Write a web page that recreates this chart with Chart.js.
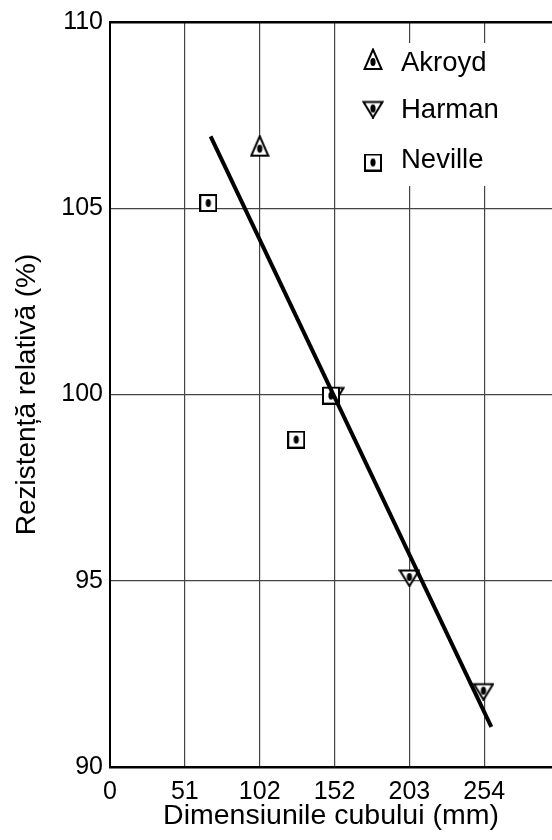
<!DOCTYPE html>
<html>
<head>
<meta charset="utf-8">
<script src="https://cdn.jsdelivr.net/npm/chart.js@4.4.1/dist/chart.umd.min.js"></script>
<style>
  html, body { margin: 0; padding: 0; background: #fff; }
  canvas { display: block; }
</style>
</head>
<body>
<canvas id="c" width="552" height="840"></canvas>
<script>
// ---- data ----
const seriesNames = ['Akroyd', 'Harman', 'Neville'];
const akroydX = [101.6];
const akroydY = [106.6];
const harmanX = [152, 203.2, 253.5];
const harmanY = [100.0, 95.1, 92.05];
const nevilleX = [66.7, 126.4, 150];
const nevilleY = [105.14, 98.79, 99.97];
const fitX = [68.3, 258.8];
const fitY = [106.93, 91.08];
const xTickValues = [0, 50.8, 101.6, 152.4, 203.2, 254];
const xTickLabels = ['0', '51', '102', '152', '203', '254'];
const yTickValues = [90, 95, 100, 105, 110];
const yTickLabels = ['90', '95', '100', '105', '110'];
const xTitle = 'Dimensiunile cubului (mm)';
const yTitle = 'Rezisten\u021B\u0103 relativ\u0103 (%)';

// ---- marker images (dot at canvas centre) ----
function makeMarker(kind) {
  const c = document.createElement('canvas');
  let w, h;
  if (kind === 'up') { w = 20; h = 28; }
  else if (kind === 'down') { w = 22; h = 20; }
  else { w = 18; h = 18; }
  c.width = w; c.height = h;
  const g = c.getContext('2d');
  g.lineWidth = 2; g.strokeStyle = '#000'; g.fillStyle = '#fff';
  g.lineJoin = 'miter';
  g.beginPath();
  if (kind === 'up') { g.moveTo(w / 2, 1.5); g.lineTo(w - 1.5, 21); g.lineTo(1.5, 21); g.closePath(); }
  else if (kind === 'down') { g.moveTo(1.5, 3.5); g.lineTo(w - 1.5, 3.5); g.lineTo(w / 2, h - 1); g.closePath(); }
  else { g.rect(1, 1, w - 2, h - 2); }
  g.fill(); g.stroke();
  g.fillStyle = '#000';
  g.beginPath();
  g.ellipse(w / 2, h / 2, 2.6, 4, 0, 0, Math.PI * 2);
  g.fill();
  return c;
}
const mUp = makeMarker('up');
const mDown = makeMarker('down');
const mSq = makeMarker('square');

function pts(xs, ys) { return xs.map((x, i) => ({ x: x, y: ys[i] })); }

const FONT = "'Liberation Sans', Arial, sans-serif";

const insideLegend = {
  id: 'insideLegend',
  afterDraw(chart, args, o) {
    const ctx = chart.ctx;
    const ca = chart.chartArea;
    ctx.save();
    ctx.fillStyle = '#fff';
    ctx.fillRect(o.left, o.top, ca.right - o.left, o.bottom - o.top);
    ctx.font = o.fontSize + 'px ' + FONT;
    ctx.fillStyle = '#000';
    ctx.textAlign = 'left';
    ctx.textBaseline = 'alphabetic';
    const items = chart.data.datasets.filter(d => d.inLegend);
    items.forEach((d, i) => {
      const img = d.pointStyle;
      ctx.drawImage(img, o.markerX - img.width / 2, o.markerY[i] - img.height / 2);
      ctx.fillText(d.label, o.textX, o.textY[i]);
    });
    ctx.restore();
  }
};

new Chart(document.getElementById('c'), {
  type: 'scatter',
  data: {
    datasets: [
      { label: 'fit', data: pts(fitX, fitY), showLine: true, borderColor: '#000', borderWidth: 4,
        pointRadius: 0, order: 0, borderCapStyle: 'butt' },
      { label: seriesNames[0], inLegend: true, data: pts(akroydX, akroydY), pointStyle: mUp, order: 1 },
      { label: seriesNames[1], inLegend: true, data: pts(harmanX, harmanY), pointStyle: mDown, order: 2 },
      { label: seriesNames[2], inLegend: true, data: pts(nevilleX, nevilleY), pointStyle: mSq, order: 1 }
    ]
  },
  options: {
    responsive: false,
    animation: false,
    events: [],
    layout: { autoPadding: false, padding: { top: 21, right: 0, bottom: 0, left: 0 } },
    plugins: {
      legend: { display: false },
      tooltip: { enabled: false },
      insideLegend: {
        left: 350, top: 43, bottom: 186,
        markerX: 373, markerY: [62, 108.5, 162.5],
        textX: 401, textY: [70.5, 117.7, 168.3],
        fontSize: 27.5
      }
    },
    scales: {
      x: {
        type: 'linear', min: 0, max: 300,
        afterBuildTicks: s => { s.ticks = xTickValues.map(v => ({ value: v })); },
        afterFit: s => { s.height = 73; s.paddingRight = 0; s.paddingLeft = 0; },
        ticks: {
          callback: (v, i) => xTickLabels[i],
          font: { family: FONT, size: 25 }, color: '#000', padding: 10, maxRotation: 0, autoSkip: false
        },
        grid: {
          drawTicks: false,
          color: c => (c.tick && c.tick.value === 0) ? '#000' : '#444',
          lineWidth: c => (c.tick && c.tick.value === 0) ? 2 : 1.2
        },
        border: { display: true, color: '#000', width: 2 },
        title: { display: true, text: xTitle, color: '#000', font: { family: FONT, size: 28.5 },
                 padding: { top: 0, bottom: 7 } }
      },
      y: {
        type: 'linear', min: 90, max: 110,
        afterBuildTicks: s => { s.ticks = yTickValues.map(v => ({ value: v })); },
        afterFit: s => { s.width = 110; },
        ticks: {
          callback: (v, i) => yTickLabels[i],
          font: { family: FONT, size: 25 }, color: '#000', padding: 7
        },
        grid: {
          drawTicks: false,
          color: c => (c.tick && (c.tick.value === 110 || c.tick.value === 90)) ? '#000' : '#444',
          lineWidth: c => (c.tick && (c.tick.value === 110 || c.tick.value === 90)) ? 2.5 : 1.2
        },
        border: { display: true, color: '#000', width: 2 },
        title: { display: true, text: yTitle, color: '#000', font: { family: FONT, size: 28 },
                 padding: { top: 10.5, bottom: 0 } }
      }
    }
  },
  plugins: [insideLegend]
});
</script>
</body>
</html>
